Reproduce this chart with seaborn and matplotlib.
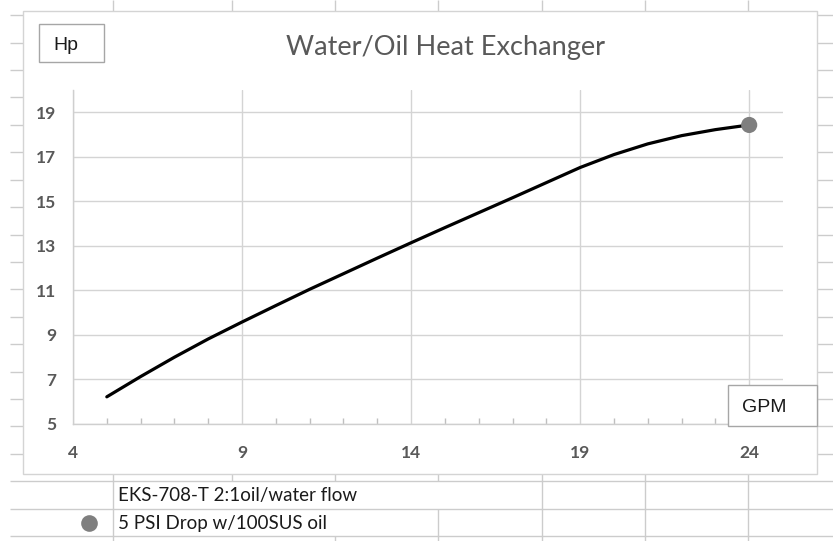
import matplotlib
matplotlib.use("Agg")
import matplotlib.pyplot as plt
from matplotlib.patches import Rectangle
from matplotlib.ticker import MultipleLocator, FixedLocator
import seaborn as sns
import pandas as pd

# Heat exchanger performance curve: flow (GPM) vs. heat removal (Hp)
gpm = [5, 6, 7, 8, 9, 10, 11, 12, 13, 14, 15, 16, 17, 18, 19, 20, 21, 22, 23, 24]
hp = [6.22, 7.13, 8.00, 8.82, 9.58, 10.32, 11.05, 11.75, 12.45, 13.14,
      13.82, 14.49, 15.16, 15.84, 16.52, 17.10, 17.58, 17.95, 18.22, 18.43]

x_ticks = [4, 9, 14, 19, 24]
y_ticks = [5, 7, 9, 11, 13, 15, 17, 19]

title = "Water/Oil Heat Exchanger"
y_label = "Hp"
x_label = "GPM"
legend_lines = ["EKS-708-T 2:1oil/water flow", "5 PSI Drop w/100SUS oil"]

df = pd.DataFrame({"GPM": gpm, "Hp": hp})

sns.set_theme(style="white")
plt.rcParams["font.family"] = ["Lato", "DejaVu Sans"]

W, H = 833, 541
fig = plt.figure(figsize=(W / 100, H / 100), dpi=100)
fig.patch.set_facecolor("white")

# Worksheet backdrop (pixel coordinates, y downward)
bg = fig.add_axes([0, 0, 1, 1], zorder=0)
bg.set_xlim(0, W)
bg.set_ylim(H, 0)
bg.axis("off")

sheet_col = "#cccccc"
rows = [15.3 + 27.4 * i for i in range(20)]
cols = [113, 232, 335, 438, 542, 645, 748]
for yr in rows:
    bg.plot([10, W], [yr, yr], color=sheet_col, lw=1, solid_capstyle="butt")
for xc in cols:
    if xc == 232:
        segs = [(0, 481)]
    elif xc == 335:
        segs = [(0, 481), (536, H)]
    elif xc == 438:
        segs = [(0, 481), (508.5, H)]
    else:
        segs = [(0, H)]
    for a, b in segs:
        bg.plot([xc, xc], [a, b], color=sheet_col, lw=1, solid_capstyle="butt")

# Chart area
bg.add_patch(Rectangle((23, 11), 794, 463, facecolor="white",
                       edgecolor="#d4d4d4", lw=1, zorder=5))

# Series legend in the cells below the chart
bg.plot([89], [523], "o", ms=12, color="#7f7f7f", mec="none", zorder=6)
bg.text(118, 496, legend_lines[0], fontsize=13.5, color="#1a1a1a",
        ha="left", va="center", zorder=6)
bg.text(118, 523, legend_lines[1], fontsize=13.5, color="#1a1a1a",
        ha="left", va="center", zorder=6)

# Plot area
left, right, top, bottom = 73, 783, 90, 424
ax = fig.add_axes([left / W, (H - bottom) / H, (right - left) / W, (bottom - top) / H],
                  zorder=1)
ax.patch.set_alpha(0)

sns.lineplot(data=df, x="GPM", y="Hp", color="black", lw=2.3, ax=ax, zorder=3)
sns.scatterplot(x=[gpm[-1]], y=[hp[-1]], s=135, color="#7f7f7f",
                edgecolor="none", ax=ax, zorder=4)

ax.set_xlim(4, 25)
ax.set_ylim(5, 20)
ax.xaxis.set_major_locator(FixedLocator(x_ticks))
ax.yaxis.set_major_locator(FixedLocator(y_ticks))
ax.xaxis.set_minor_locator(MultipleLocator(1))
ax.grid(True, which="major", color="#d4d4d4", lw=1)
ax.set_axisbelow(True)
for s in ["top", "right"]:
    ax.spines[s].set_visible(False)
for s in ["left", "bottom"]:
    ax.spines[s].set_color("#cfcfcf")
    ax.spines[s].set_linewidth(1)
ax.set_xlabel("")
ax.set_ylabel("")
ax.tick_params(axis="both", which="major", length=0, labelsize=12.5,
               labelcolor="#595959")
ax.tick_params(axis="x", which="major", pad=15)
ax.tick_params(axis="y", which="major", pad=12)
ax.tick_params(axis="x", which="minor", direction="in", length=4,
               width=1, color="#bfbfbf", bottom=True)
for lab in ax.get_xticklabels() + ax.get_yticklabels():
    lab.set_fontweight("bold")

# Title and axis-name boxes
fig.text(445 / W, 1 - 47 / H, title, fontsize=19.5, color="#595959",
         ha="center", va="center")

top_ax = fig.add_axes([0, 0, 1, 1], zorder=3)
top_ax.set_xlim(0, W)
top_ax.set_ylim(H, 0)
top_ax.axis("off")
top_ax.patch.set_alpha(0)
top_ax.add_patch(Rectangle((39, 24), 65, 38, facecolor="white",
                           edgecolor="#a6a6a6", lw=1))
top_ax.text(53, 45, y_label, fontsize=14, color="#1a1a1a", ha="left",
            va="center", family=["Liberation Sans", "DejaVu Sans"])
top_ax.add_patch(Rectangle((728, 385), 89, 41, facecolor="white",
                           edgecolor="#a6a6a6", lw=1))
top_ax.text(742, 408, x_label, fontsize=14, color="#1a1a1a", ha="left",
            va="center", family=["Liberation Sans", "DejaVu Sans"])

fig.savefig("out.png", dpi=100, facecolor="white")
